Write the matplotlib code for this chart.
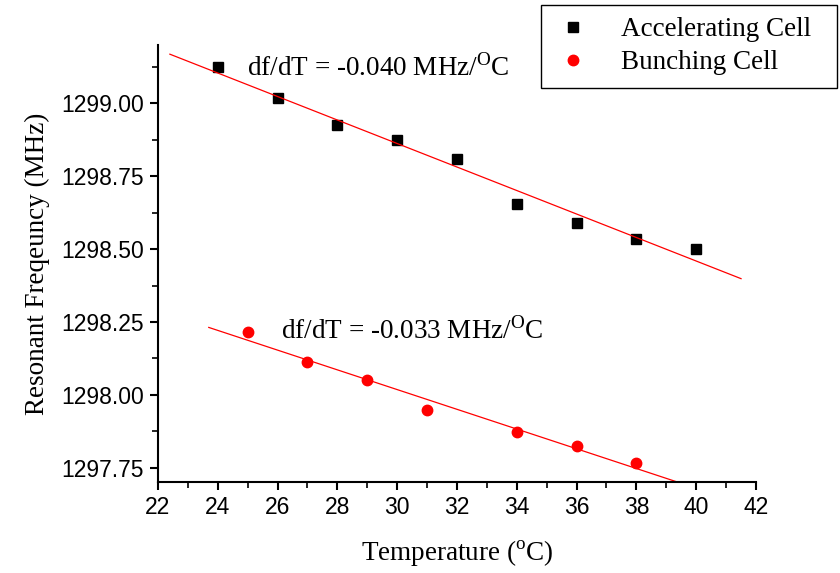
import numpy as np
import matplotlib
matplotlib.use('Agg')
import matplotlib.pyplot as plt
from matplotlib.ticker import MultipleLocator, FormatStrFormatter

plt.rcParams['mathtext.fontset'] = 'custom'
plt.rcParams['mathtext.rm'] = 'Liberation Serif'

# -----------------------------------------------------------------------------
# data
acc_temp = [24, 26, 28, 30, 32, 34, 36, 38, 40]
acc_freq = [1299.126, 1299.019, 1298.924, 1298.873, 1298.810,
            1298.655, 1298.589, 1298.536, 1298.501]
bun_temp = [25, 27, 29, 31, 34, 36, 38]
bun_freq = [1298.216, 1298.111, 1298.052, 1297.948,
            1297.871, 1297.825, 1297.765]

acc_fit_range = [22.4, 41.5]
bun_fit_range = [23.7, 39.5]

acc_label = 'df/dT = -0.040 MHz/$^{\\mathrm{O}}$C'
bun_label = 'df/dT = -0.033 MHz/$^{\\mathrm{O}}$C'

SERIF = 'Liberation Serif'
SANS = 'Liberation Sans'
# -----------------------------------------------------------------------------

fig = plt.figure(figsize=(8.4, 5.73), dpi=100)
ax = fig.add_axes([0.188, 0.1593, 0.712, 0.7622])

# trailing spaces widen the legend box a little on the right
ax.plot(acc_temp, acc_freq, 's', color='black', ms=7,
        label='Accelerating Cell  ')
ax.plot(bun_temp, bun_freq, 'o', color='red', ms=7.5, mec='red',
        label='Bunching Cell')

# linear fits
for xs, ys, rng in [(acc_temp, acc_freq, acc_fit_range),
                    (bun_temp, bun_freq, bun_fit_range)]:
    p = np.polyfit(xs, ys, 1)
    xx = np.array(rng)
    ax.plot(xx, np.polyval(p, xx), color='red', lw=0.9)

ax.text(24.98, 1299.122, acc_label, family=SERIF, fontsize=19.5,
        va='center', ha='left')
ax.text(26.13, 1298.220, bun_label, family=SERIF, fontsize=19.5,
        va='center', ha='left')

ax.set_xlim(22, 42)
ax.set_ylim(1297.702, 1299.20)
ax.xaxis.set_major_locator(MultipleLocator(2))
ax.xaxis.set_minor_locator(MultipleLocator(1))
ax.yaxis.set_major_locator(MultipleLocator(0.25))
ax.yaxis.set_minor_locator(MultipleLocator(0.125))
ax.yaxis.set_major_formatter(FormatStrFormatter('%.2f'))

for s in ['top', 'right']:
    ax.spines[s].set_visible(False)
for s in ['left', 'bottom']:
    ax.spines[s].set_linewidth(1.5)

ax.tick_params(which='major', direction='out', length=6, width=1.5,
               labelsize=16.5, pad=4)
ax.tick_params(which='minor', direction='out', length=4, width=1.2)
for lbl in ax.get_xticklabels() + ax.get_yticklabels():
    lbl.set_family(SANS)

ax.set_xlabel('Temperature ($^{\\mathrm{o}}$C)', family=SERIF, fontsize=19.5,
              labelpad=14)
ax.set_ylabel('Resonant Freqeuncy (MHz)', family=SERIF, fontsize=19.5,
              labelpad=8)

leg = fig.legend(loc='upper right', bbox_to_anchor=(837 / 840, 1 - 5 / 573),
                 prop={'family': SERIF, 'size': 19.5}, fancybox=False,
                 edgecolor='black', framealpha=1, handlelength=1.48,
                 handletextpad=1.04, labelspacing=0.3, borderpad=0.45,
                 borderaxespad=0)
leg.get_frame().set_linewidth(1.0)

fig.savefig('out.png', dpi=100)
